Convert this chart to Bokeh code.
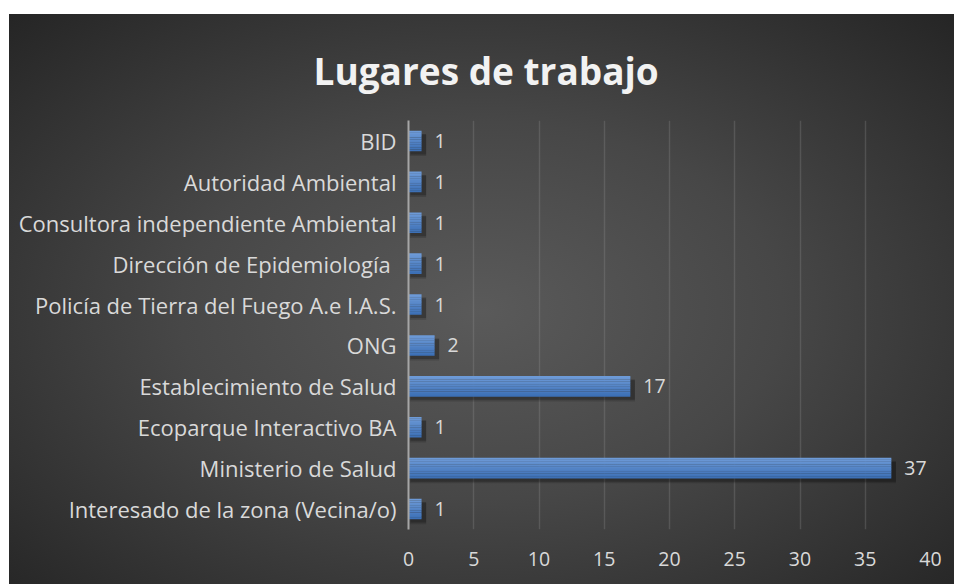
from bokeh.plotting import figure
from bokeh.models import ColumnDataSource, Range1d, FactorRange, LabelSet, Spacer, FixedTicker
from bokeh.core.properties import value
from bokeh.transform import dodge
from bokeh.layouts import column, row
from bokeh.embed import file_html
from bokeh.resources import INLINE

categories = [
    "Interesado de la zona (Vecina/o)",
    "Ministerio de Salud",
    "Ecoparque Interactivo BA",
    "Establecimiento de Salud",
    "ONG",
    "Policía de Tierra del Fuego A.e I.A.S.",
    "Dirección de Epidemiología ",
    "Consultora independiente Ambiental",
    "Autoridad Ambiental",
    "BID",
]
values = [1, 37, 1, 17, 2, 1, 1, 1, 1, 1]
x_ticks = [0, 5, 10, 15, 20, 25, 30, 35, 40]
title_text = "Lugares de trabajo"

FONT = "Open Sans"

p = figure(
    width=945, height=570,
    y_range=FactorRange(factors=categories),
    x_range=Range1d(0, 40),
    output_backend="svg", toolbar_location=None,
    min_border_left=399, min_border_right=24,
    min_border_top=106, min_border_bottom=55,
)
p.border_fill_color = None
p.background_fill_color = None
p.outline_line_color = None
p.styles = {"background": "radial-gradient(ellipse at 50% 52%, #5a5a5a 0%, #474747 45%, #252525 100%)"}

src = ColumnDataSource(dict(cat=categories, val=values,
                            shadow_left=[0.15] * len(values),
                            shadow_right=[v + 0.35 for v in values]))

# shadows
p.hbar(y=dodge("cat", -0.11, range=p.y_range), left=0.1, right="shadow_right", height=0.52,
       source=src, fill_color="black", fill_alpha=0.15, line_color=None)
p.hbar(y=dodge("cat", -0.08, range=p.y_range), left="shadow_left", right="shadow_right", height=0.5,
       source=src, fill_color="black", fill_alpha=0.22, line_color=None)

# bars with vertical gradient bands
top = (0x6d, 0x9a, 0xd7)
bot = (0x3d, 0x70, 0xb6)
n = 12
band_h = 0.5 / n
for i in range(n):
    t = i / (n - 1)
    c = tuple(int(round(top[k] + (bot[k] - top[k]) * t)) for k in range(3))
    col = "#%02x%02x%02x" % c
    off = 0.25 - band_h * (i + 0.5)
    p.hbar(y=dodge("cat", off, range=p.y_range), left=0, right="val", height=band_h + 0.004,
           source=src, fill_color=col, line_color=None)

labels = LabelSet(x="val", y="cat", text="val", source=src, x_offset=13,
                  text_baseline="middle", text_align="left",
                  text_color="#d9d9d9", text_font=value(FONT), text_font_size="19.5px")
p.add_layout(labels)

# axes
p.xaxis.ticker = FixedTicker(ticks=x_ticks)
p.xaxis.axis_line_color = None
p.xaxis.major_tick_line_color = None
p.xaxis.minor_tick_line_color = None
p.xaxis.major_label_standoff = 16
p.xaxis.major_label_text_color = "#d9d9d9"
p.xaxis.major_label_text_font = FONT
p.xaxis.major_label_text_font_size = "19.5px"

p.yaxis.axis_line_color = "#a6a6a6"
p.yaxis.axis_line_width = 2
p.yaxis.major_tick_line_color = None
p.yaxis.minor_tick_line_color = None
p.yaxis.major_label_standoff = 6
p.yaxis.major_label_text_color = "#d9d9d9"
p.yaxis.major_label_text_font = FONT
p.yaxis.major_label_text_font_size = "22px"

p.ygrid.grid_line_color = None
p.xgrid.ticker = FixedTicker(ticks=x_ticks)
p.xgrid.grid_line_color = "#9a9a9a"
p.xgrid.grid_line_alpha = 0.25
p.xgrid.grid_line_width = 1.5

# title
p.title.text = title_text
p.title.align = "left"
p.title.offset = -95
p.title.text_color = "#f2f2f2"
p.title.text_font = FONT
p.title.text_font_style = "bold"
p.title.text_font_size = "37px"
p.title.standoff = 50

layout = column(Spacer(height=14), row(Spacer(width=9), p))
open("out.html", "w").write(file_html(layout, INLINE))
